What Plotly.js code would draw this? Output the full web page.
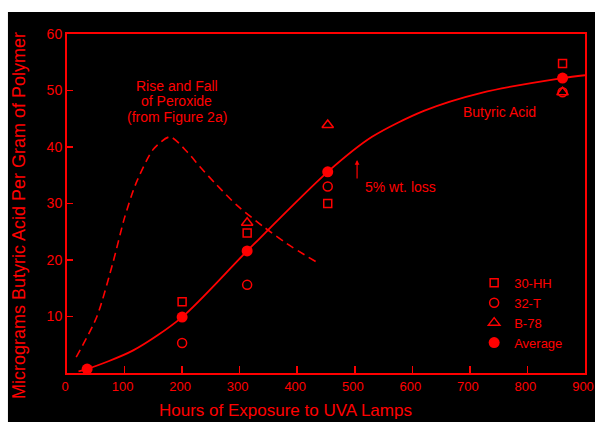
<!DOCTYPE html>
<html>
<head>
<meta charset="utf-8">
<script src="https://cdn.plot.ly/plotly-3.0.1.min.js"></script>
<style>html,body{margin:0;padding:0;background:#fff;}#chart{width:595px;height:422px;}</style>
</head>
<body>
<div id="chart"></div>
<script>
// Butyric acid fitted curve
const butyricHours = [20, 35, 115, 200, 313, 453, 530, 620, 720, 861, 900];
const butyricValues = [0.3, 0.7, 4, 9.9, 21.6, 35.6, 41.8, 46.4, 49.6, 52.2, 52.7];
// Peroxide rise and fall curve (dashed)
const peroxideHours = [16, 52, 80, 100, 120, 150, 179, 210, 231, 260, 295, 340, 382, 434];
const peroxideValues = [2.8, 10, 19.6, 27.5, 33.6, 39.6, 41.8, 39.0, 36.5, 33.3, 29.7, 26.0, 22.9, 19.6];
// Individual samples
const hhHours = [200, 313, 453, 861];
const hhValues = [12.6, 24.8, 30, 54.8];
const tHours = [200, 313, 453, 861];
const tValues = [5.3, 15.6, 33, 49.7];
const bHours = [313, 453, 861];
const bValues = [26.6, 43.9, 49.7];
const avgHours = [35, 200, 313, 453, 861];
const avgValues = [0.7, 9.9, 21.6, 35.6, 52.2];
const seriesNames = ["30-HH", "32-T", "B-78", "Average"];
const xTicks = [0, 100, 200, 300, 400, 500, 600, 700, 800, 900];
const yTicks = [10, 20, 30, 40, 50, 60];

const RED = "#ff0000";
const FONT = "Liberation Sans, Arial, sans-serif";

const traces = [
  {x: butyricHours, y: butyricValues, mode: "lines", line: {color: RED, width: 1.8, shape: "spline", smoothing: 0.8}, showlegend: false, hoverinfo: "skip"},
  {x: peroxideHours, y: peroxideValues, mode: "lines", line: {color: RED, width: 1.6, shape: "spline", smoothing: 0.7, dash: "8px,5px"}, showlegend: false, hoverinfo: "skip"},
  {x: hhHours, y: hhValues, mode: "markers", name: seriesNames[0], marker: {symbol: "square-open", size: 8, color: RED, line: {width: 1.5, color: RED}}},
  {x: tHours, y: tValues, mode: "markers", name: seriesNames[1], marker: {symbol: "circle-open", size: 9, color: RED, line: {width: 1.5, color: RED}}},
  {x: bHours, y: bValues, mode: "markers", name: seriesNames[2], marker: {symbol: "triangle-up-open", size: 10, color: RED, line: {width: 1.5, color: RED}}},
  {x: avgHours, y: avgValues, mode: "markers", name: seriesNames[3], marker: {symbol: "circle", size: 11, color: RED}}
];

const ann = (text, x, y, extra) => Object.assign({text: text, x: x, y: y, xref: "x", yref: "y", showarrow: false, font: {family: FONT, size: 14, color: RED}}, extra || {});

const layout = {
  width: 595, height: 422,
  margin: {l: 67, r: 10, t: 34, b: 49, pad: 0},
  paper_bgcolor: "#ffffff",
  plot_bgcolor: "#000000",
  font: {family: FONT, color: RED, size: 14},
  showlegend: true,
  legend: {x: 0.786, xanchor: "left", y: 0.31, yanchor: "top", bgcolor: "rgba(0,0,0,0)", font: {family: FONT, size: 13, color: RED}, tracegroupgap: 0, itemwidth: 30},
  xaxis: {range: [0, 900], tickvals: xTicks, ticktext: xTicks.map(String), ticks: "inside", ticklen: 7, tickwidth: 1.5, tickcolor: RED,
          showline: true, linecolor: RED, linewidth: 2, mirror: true, showgrid: false, zeroline: false, ticklabeloverflow: "allow",
          ticklabelshift: -2, tickfont: {family: FONT, size: 13, color: RED}},
  yaxis: {range: [0, 60], tickvals: yTicks, ticktext: yTicks.map(String), ticks: "inside", ticklen: 6, tickwidth: 1.5, tickcolor: RED,
          showline: true, linecolor: RED, linewidth: 2, mirror: true, showgrid: false, zeroline: false,
          tickfont: {family: FONT, size: 14, color: RED}},
  shapes: [
    {type: "rect", xref: "paper", yref: "paper", x0: -0.114, x1: 1.03, y0: -0.16, y1: 1.065, fillcolor: "#000000", line: {width: 0}, layer: "below"}
  ],
  annotations: [
    {text: "Micrograms Butyric Acid Per Gram of Polymer", xref: "paper", yref: "paper", x: -0.0927, y: 0.466, textangle: -90, showarrow: false, xanchor: "center", yanchor: "middle", font: {family: FONT, size: 18, color: RED}},
    {text: "Hours of Exposure to UVA Lamps", xref: "paper", yref: "paper", x: 0.421, y: -0.112, showarrow: false, xanchor: "center", yanchor: "middle", font: {family: FONT, size: 17, color: RED}},
    ann("Rise and Fall", 191, 50.8),
    ann("of Peroxide", 191, 48.1),
    ann("(from Figure 2a)", 191, 45.3),
    ann("Butyric Acid", 752, 46.2),
    ann("5% wt. loss", 514, 32.9, {xanchor: "left"}),
    {text: "", x: 504, y: 37.7, xref: "x", yref: "y", showarrow: true, ax: 0, ay: 20, arrowhead: 2, arrowsize: 0.8, arrowwidth: 1.2, arrowcolor: RED}
  ]
};

Plotly.newPlot("chart", traces, layout, {staticPlot: true, displayModeBar: false});
</script>
</body>
</html>
